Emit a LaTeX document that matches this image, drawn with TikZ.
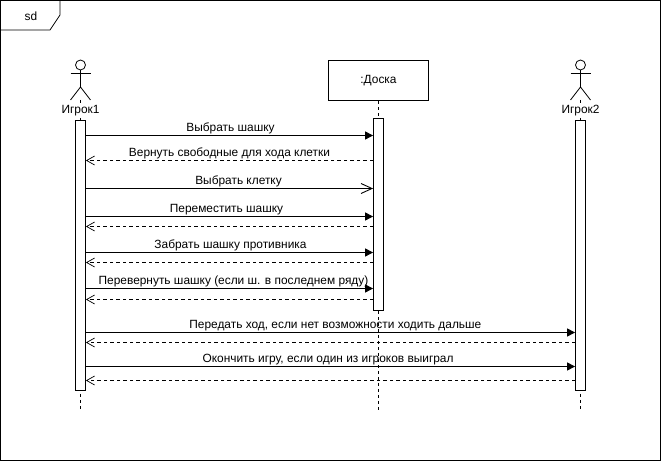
\documentclass[tikz,border=0pt]{standalone}
\usepackage{fontspec}
\setmainfont{Liberation Sans}
\usetikzlibrary{arrows.meta,calc,positioning}

\tikzset{
    txt/.style={font=\fontsize{11.9}{13}\selectfont, inner sep=0pt},
    bar/.style={draw, fill=white, minimum width=10pt, inner sep=0pt},
    lifeline/.style={dash pattern=on 3pt off 3pt},
    msgsync/.style={-{Triangle[length=8pt,width=8pt]}, line width=1pt},
    msgopen/.style={-{Straight Barb[length=11pt,width=10pt]}, line width=.9pt},
    msgreply/.style={-{Straight Barb[length=8pt,width=9pt]}, line width=.7pt, dash pattern=on 3.5pt off 3pt},
    msglabel/.style={txt, above=1.5pt},
    stickman/.pic={
        \draw (0,-15) circle (5);
        \draw (-10,-7) -- (10,-7);
        \draw (0,-10) -- (0,7);
        \draw (-10,20) -- (0,7) -- (10,20);
    },
}

\begin{document}
\begin{tikzpicture}[x=1pt,y=-1pt,line width=.8pt]
    \useasboundingbox (0,0) rectangle (662,462);

    % Frame
    \draw (.5,.5) rectangle (660,460);
    \draw (.5,30) -- (50,30) -- (60,15) -- (60,.5);
    \node[txt] (sd) at (31,16.5) {sd};

    % Lifelines
    \coordinate (top1) at (80.5,100);
    \coordinate (top3) at (580.5,100);
    \coordinate (end1) at (80.5,410);
    \coordinate (end2) at (378.5,410);
    \coordinate (end3) at (580.5,410);
    \node[draw, minimum width=100pt, minimum height=40pt, txt] (doska) at (378.5,80.5) {:Доска};
    \draw[lifeline] (top1) -- (end1);
    \draw[lifeline] (doska.south) -- (end2);
    \draw[lifeline] (top3) -- (end3);

    % Actors
    \pic at (80.5,80) {stickman};
    \pic at (580.5,80) {stickman};
    \node[txt, fill=white, inner ysep=1pt] (igrok1) at (80.5,110.5) {Игрок1};
    \node[txt, fill=white, inner ysep=1pt] (igrok2) at (580.5,110.5) {Игрок2};

    % Activation bars
    \node[bar, minimum height=270pt] (bar1) at (80.5,255) {};
    \node[bar, minimum height=192pt] (bar2) at (378.5,214.5) {};
    \node[bar, minimum height=270pt] (bar3) at (580.5,255) {};

    % To the board
    \foreach \y/\s/\t in {135.5/1/Выбрать шашку,216.5/-3/Переместить шашку,252.5/1/Забрать шашку противника,288.5/4/Перевернуть шашку (если ш. в последнем ряду)} {
        \draw[msgsync] (bar1.east |- {0,\y}) -- node[msglabel, xshift=\s pt] {\t} (bar2.west |- {0,\y});
    }
    \draw[msgopen] (bar1.east |- {0,188.5}) -- node[msglabel, xshift=9pt] {Выбрать клетку} (bar2.west |- {0,188.5});

    % Replies
    \foreach \y/\t in {160.5/Вернуть свободные для хода клетки,226.5/,262.5/,299.5/} {
        \draw[msgreply] (bar2.west |- {0,\y}) -- node[msglabel] {\t} (bar1.east |- {0,\y});
    }

    % To the second player
    \draw[msgsync] (bar1.east |- {0,332.5}) -- node[msglabel, pos=.51] {Передать ход, если нет возможности ходить дальше} (bar3.west |- {0,332.5});
    \draw[msgreply] (bar3.west |- {0,342.5}) -- (bar1.east |- {0,342.5});
    \draw[msgsync] (bar1.east |- {0,366.5}) -- node[msglabel, pos=.495] {Окончить игру, если один из игроков выиграл} (bar3.west |- {0,366.5});
    \draw[msgreply] (bar3.west |- {0,380.5}) -- (bar1.east |- {0,380.5});

\end{tikzpicture}
\end{document}
